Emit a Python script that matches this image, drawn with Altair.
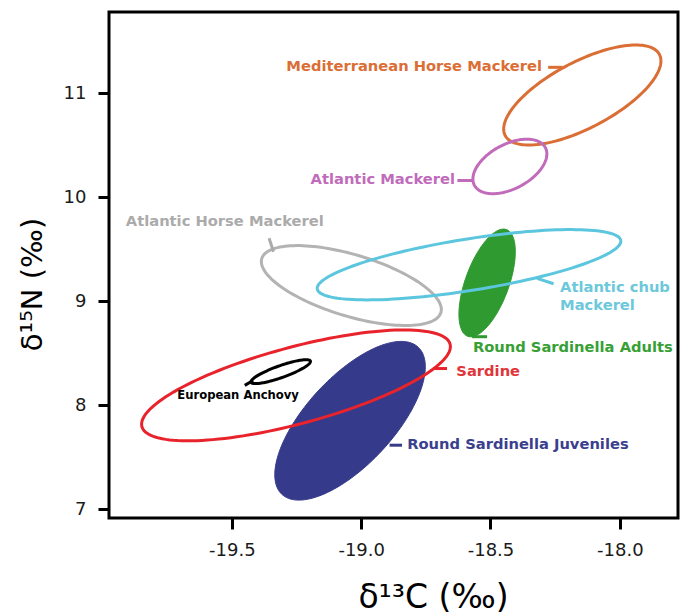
import altair as alt
import pandas as pd

# ---- ellipse parameters (data units) ----
names = ["Round Sardinella Juveniles", "Round Sardinella Adults",
         "Mediterranean Horse Mackerel", "Atlantic Mackerel",
         "Atlantic Horse Mackerel", "Atlantic chub Mackerel",
         "Sardine", "European Anchovy"]
centre_c = [-19.043, -18.513, -18.145, -18.425, -19.038, -18.583, -19.252, -19.311]
centre_n = [7.850, 9.175, 10.982, 10.295, 9.150, 9.350, 8.190, 8.322]
half_c = [0.291, 0.109, 0.304, 0.143, 0.348, 0.587, 0.597, 0.115]
half_n = [0.763, 0.518, 0.481, 0.262, 0.384, 0.338, 0.533, 0.115]
corr = [0.68, 0.58, 0.68, 0.46, -0.60, 0.67, 0.70, 0.85]
colours = ["#353A8B", "#2F9A30", "#DB6E35", "#C06CBB", "#B3B3B3", "#5BC6DD", "#E8232B", "#000000"]
filled = [True, True, False, False, False, False, False, False]

# ---- labels ----
label_text = ["Mediterranean Horse Mackerel", "Atlantic Mackerel", "Atlantic Horse Mackerel",
              "Atlantic chub", "Mackerel", "Round Sardinella Adults", "Sardine",
              "European Anchovy", "Round Sardinella Juveniles"]
label_c = [-18.301, -18.637, -19.910, -18.231, -18.231, -18.568, -18.632, -19.476, -18.822]
label_n = [11.254, 10.160, 9.765, 9.122, 8.950, 8.547, 8.322, 8.085, 7.615]
label_align = ["right", "right", "left", "left", "left", "left", "left", "center", "left"]
label_size = [14.7, 14.7, 14.7, 14.7, 14.7, 14.7, 14.7, 11.6, 14.7]
label_colour = ["#DB6E35", "#C06CBB", "#ABABAB", "#6CC8DA", "#6CC8DA", "#37A035",
                "#E0353B", "#000000", "#3A3F8E"]

# ---- leader lines ----
lead_c1 = [-18.277, -18.628, -19.356, -18.320, -18.571, -18.716, -18.890, -19.450]
lead_n1 = [11.248, 10.160, 9.604, 9.219, 8.658, 8.352, 7.615, 8.190]
lead_c2 = [-18.222, -18.566, -19.339, -18.256, -18.513, -18.668, -18.842, -19.418]
lead_n2 = [11.248, 10.160, 9.475, 9.167, 8.658, 8.352, 7.615, 8.237]
lead_colour = ["#DB6E35", "#C06CBB", "#ABABAB", "#5BC6DD", "#2F9A30", "#E8232B", "#353A8B", "#000000"]

x_ticks = [-19.5, -19.0, -18.5, -18.0]
y_ticks = [7, 8, 9, 10, 11]

NPTS = 144
rows = []
for i, nm in enumerate(names):
    for k in range(NPTS):
        rows.append({"name": nm, "k": k, "cx": centre_c[i], "cy": centre_n[i],
                     "w": half_c[i], "h": half_n[i], "r": corr[i]})
ell = pd.DataFrame(rows)

labels = pd.DataFrame({"text": label_text, "lx": label_c, "ly": label_n,
                       "align": label_align, "size": label_size, "colour": label_colour})
leaders = pd.DataFrame({"x1": lead_c1, "y1": lead_n1, "x2": lead_c2, "y2": lead_n2,
                        "colour": lead_colour})

FONT = "DejaVu Sans"
xscale = alt.Scale(domain=[-19.975, -17.775], nice=False, zero=False)
yscale = alt.Scale(domain=[6.915, 11.78], nice=False, zero=False)
xaxis = alt.Axis(values=x_ticks, title="δ¹³C (‰)",
                 labelExpr="datum.value < 0 ? '-' + format(-datum.value, '.1f') : format(datum.value, '.1f')",
                 titleX=324, titleY=89, titleBaseline="alphabetic",
                 titleAlign="center")
yaxis = alt.Axis(values=y_ticks, title="δ¹⁵N (‰)", format="d",
                 titleX=-77, titleY=272, titleAngle=270, titleAlign="center",
                 titleBaseline="middle")

def X(field):
    return alt.X(field, type="quantitative", scale=xscale, axis=xaxis)

def Y(field):
    return alt.Y(field, type="quantitative", scale=yscale, axis=yaxis)

base = alt.Chart(ell).transform_calculate(
    t="2 * PI * datum.k / %d" % NPTS
).transform_calculate(
    ex="datum.cx + datum.w * cos(datum.t)",
    ey="datum.cy + datum.h * cos(datum.t - acos(datum.r))"
)

layers = []
# filled ellipses first
for i, nm in enumerate(names):
    if filled[i]:
        layers.append(base.transform_filter(alt.datum.name == nm).mark_line(
            interpolate="linear-closed", stroke=colours[i], fill=colours[i], strokeWidth=1
        ).encode(x=X("ex"), y=Y("ey"), order=alt.Order("k:Q")))
for i, nm in enumerate(names):
    if not filled[i]:
        layers.append(base.transform_filter(alt.datum.name == nm).mark_line(
            interpolate="linear-closed", stroke=colours[i], strokeWidth=3
        ).encode(x=X("ex"), y=Y("ey"), order=alt.Order("k:Q")))

layers.append(alt.Chart(leaders).mark_rule(strokeWidth=3).encode(
    x=X("x1"), y=Y("y1"), x2="x2", y2="y2", color=alt.Color("colour:N", scale=None)))

for al in ["left", "right", "center"]:
    layers.append(alt.Chart(labels).transform_filter(alt.datum.align == al).mark_text(
        align=al, baseline="middle", font=FONT, fontWeight="bold"
    ).encode(x=X("lx"), y=Y("ly"), text="text:N",
             color=alt.Color("colour:N", scale=None),
             size=alt.Size("size:Q", scale=None)))

chart = alt.layer(*layers).properties(
    width=569, height=506,
    padding={"left": 101, "top": 4, "right": 3, "bottom": 96},
    autosize=alt.AutoSizeParams(type="none"),
).configure_view(
    stroke="black", strokeWidth=3
).configure_axis(
    domain=False, grid=False, ticks=True, tickSize=11, tickWidth=3, tickColor="black",
    labelFont=FONT, labelFontSize=18, labelColor="#1a1a1a",
    titleFont=FONT, titleFontWeight="normal", titleColor="black"
).configure_axisX(
    labelPadding=12, titleFontSize=33
).configure_axisY(
    labelPadding=12, titleFontSize=29
)

chart.save("out.html", embed_options={"renderer": "svg", "actions": False})
